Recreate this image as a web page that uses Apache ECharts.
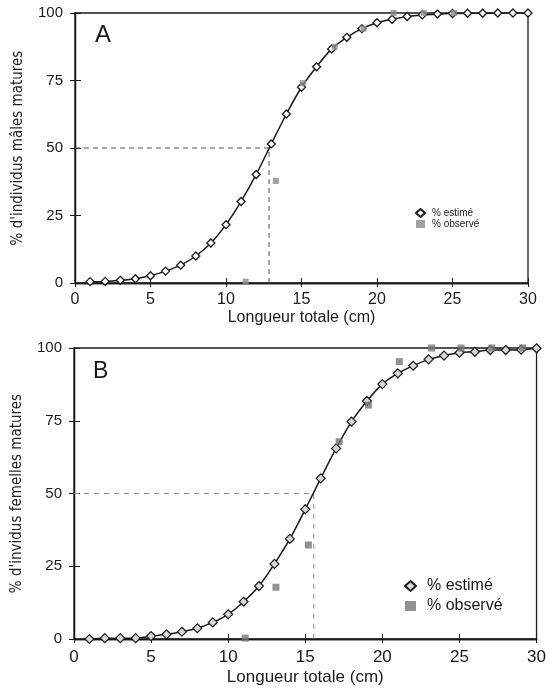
<!DOCTYPE html>
<html>
<head>
<meta charset="utf-8">
<script src="https://cdn.jsdelivr.net/npm/echarts@6/dist/echarts.min.js"></script>
<style>
  html, body { margin: 0; padding: 0; background: #fff; }
  #main { width: 549px; height: 694px; }
</style>
</head>
<body>
<div id="main"></div>
<script>
let chartDom = document.getElementById('main');
let myChart = echarts.init(chartDom);

// longueur totale (cm), 1..30
let lengths = [];
for (let i = 1; i <= 30; i++) lengths.push(i);

// A : mâles
let estA = [0.5, 0.6, 1, 1.6, 2.7, 4.4, 6.6, 10, 14.8, 21.6, 30.2, 40.2, 51.5, 62.6, 72.5,
	80.1, 86.7, 91, 94.2, 96.4, 97.7, 98.7, 99.3, 99.6, 99.8, 99.9, 99.9, 100, 100, 100];
let obsAx = [11.3, 13.3, 15.1, 17.2, 19.1, 21.1, 23.1, 25.1];
let obsAy = [0.5, 37.8, 74, 87.5, 94.2, 100, 100, 100];
let l50A = 12.85;

// B : femelles
let estB = [0, 0.3, 0.3, 0.3, 1, 1.6, 2.5, 3.7, 5.7, 8.5, 12.8, 18.2, 25.8, 34.4, 44.6,
	55.2, 65.5, 74.7, 81.8, 87.6, 91.3, 93.9, 96.1, 97.4, 98.4, 98.7, 99.3, 99.3, 99.4, 99.9];
let obsBx = [11.1, 13.1, 15.2, 17.2, 19.1, 21.1, 23.2, 25.1, 27.1, 29.1];
let obsBy = [0.3, 17.8, 32.3, 67.8, 80.4, 95.3, 100, 100, 100, 100];
let l50B = 15.55;

let legendNames = {
	estA: '% estimé', obsA: '% observé',
	estB: '% estimé', obsB: '% observé'
};

const font = '"Liberation Sans", Arial, sans-serif';
const narrow = '"Liberation Sans Narrow", "DejaVu Sans Condensed", "Liberation Sans", sans-serif';
const ink = '#1a1a1a';

function zip(xs, ys) {
	return xs.map((x, i) => [x, ys[i]]);
}

function xAxes(grid, size, margin, nameGap) {
	let base = {
		gridIndex: grid, type: 'value', min: 0, max: 30, interval: 5,
		splitLine: { show: false },
		axisLine: { lineStyle: { color: ink, width: 1.3 } }
	};
	return [
		Object.assign({}, base, {
			name: 'Longueur totale (cm)',
			nameLocation: 'middle',
			nameGap: nameGap,
			nameTextStyle: { fontFamily: font, fontSize: size, color: ink },
			axisTick: { inside: true, length: 5, lineStyle: { color: ink } },
			axisLabel: { fontFamily: font, fontSize: size, color: ink, margin: margin }
		}),
		Object.assign({}, base, {
			position: 'bottom',
			axisTick: { inside: false, length: 4, lineStyle: { color: ink } },
			axisLabel: { show: false }
		})
	];
}

function yAxes(grid, name, nameGap) {
	let base = {
		gridIndex: grid, type: 'value', min: 0, max: 100, interval: 25,
		splitLine: { show: false },
		axisLine: { lineStyle: { color: ink, width: 1.3 } }
	};
	return [
		Object.assign({}, base, {
			name: name,
			nameLocation: 'middle',
			nameGap: nameGap,
			nameTextStyle: { fontFamily: narrow, fontSize: 15, color: '#222' },
			axisTick: { inside: true, length: 6, lineStyle: { color: ink } },
			axisLabel: { fontFamily: font, fontSize: 15, color: ink, margin: 12 }
		}),
		Object.assign({}, base, {
			position: 'left',
			axisTick: { inside: false, length: 5, lineStyle: { color: ink } },
			axisLabel: { show: false }
		})
	];
}

option = {
	animation: false,
	backgroundColor: '#fff',
	title: [
		{ text: 'A', left: 90, top: 18, textStyle: { fontFamily: font, fontSize: 24, fontWeight: 'normal', color: ink } },
		{ text: 'B', left: 88, top: 355, textStyle: { fontFamily: font, fontSize: 23, fontWeight: 'normal', color: ink } }
	],
	grid: [
		{ left: 75, right: 21, top: 13, height: 270, show: true, borderColor: ink, borderWidth: 1.3 },
		{ left: 74, right: 12, top: 348, height: 291, show: true, borderColor: ink, borderWidth: 1.3 }
	],
	xAxis: xAxes(0, 16, 9, 27).concat(xAxes(1, 17, 10, 30)),
	yAxis: yAxes(0, "% d'individus mâles matures", 49).concat(yAxes(1, "% d'invidus femelles matures", 49)),
	legend: [
		{
			orient: 'vertical', left: 410, top: 203, itemGap: 1,
			itemWidth: 9, itemHeight: 8,
			data: [{ name: 'estA', icon: 'diamond' }, { name: 'obsA', icon: 'rect' }],
			formatter: (n) => legendNames[n],
			textStyle: { fontFamily: font, fontSize: 10, color: ink, padding: [0, 0, 0, 2] }
		},
		{
			orient: 'vertical', left: 399, top: 573, itemGap: 4,
			itemWidth: 11, itemHeight: 10,
			data: [{ name: 'estB', icon: 'diamond' }, { name: 'obsB', icon: 'rect' }],
			formatter: (n) => legendNames[n],
			textStyle: { fontFamily: font, fontSize: 16, color: ink, padding: [0, 0, 0, 6] }
		}
	],
	series: [
		{
			name: 'l50A', type: 'line', xAxisIndex: 0, yAxisIndex: 0,
			data: [[0, 50], [l50A, 50], [l50A, 0]], symbol: 'none',
			lineStyle: { color: '#555', width: 1, type: [5, 4] }, z: 1
		},
		{
			name: 'estA', type: 'line', xAxisIndex: 0, yAxisIndex: 0,
			data: zip(lengths, estA), smooth: 0.3,
			symbol: 'diamond', symbolSize: 8,
			lineStyle: { color: ink, width: 1.5 },
			itemStyle: { color: '#fff', borderColor: ink, borderWidth: 1.3 }, z: 3
		},
		{
			name: 'obsA', type: 'scatter', xAxisIndex: 0, yAxisIndex: 0,
			data: zip(obsAx, obsAy), symbol: 'rect', symbolSize: 6,
			itemStyle: { color: '#8c8c8c' }, z: 4
		},
		{
			name: 'l50B', type: 'line', xAxisIndex: 2, yAxisIndex: 2,
			data: [[0, 50], [l50B, 50], [l50B, 0]], symbol: 'none',
			lineStyle: { color: '#8a8a8a', width: 1, type: [5, 5] }, z: 1
		},
		{
			name: 'estB', type: 'line', xAxisIndex: 2, yAxisIndex: 2,
			data: zip(lengths, estB), smooth: 0.3,
			symbol: 'diamond', symbolSize: 9,
			lineStyle: { color: ink, width: 1.5 },
			itemStyle: { color: '#d8d8d8', borderColor: ink, borderWidth: 1.2 }, z: 3
		},
		{
			name: 'obsB', type: 'scatter', xAxisIndex: 2, yAxisIndex: 2,
			data: zip(obsBx, obsBy), symbol: 'rect', symbolSize: 7,
			itemStyle: { color: '#777' }, z: 4
		}
	]
};

myChart.setOption(option);
</script>
</body>
</html>
